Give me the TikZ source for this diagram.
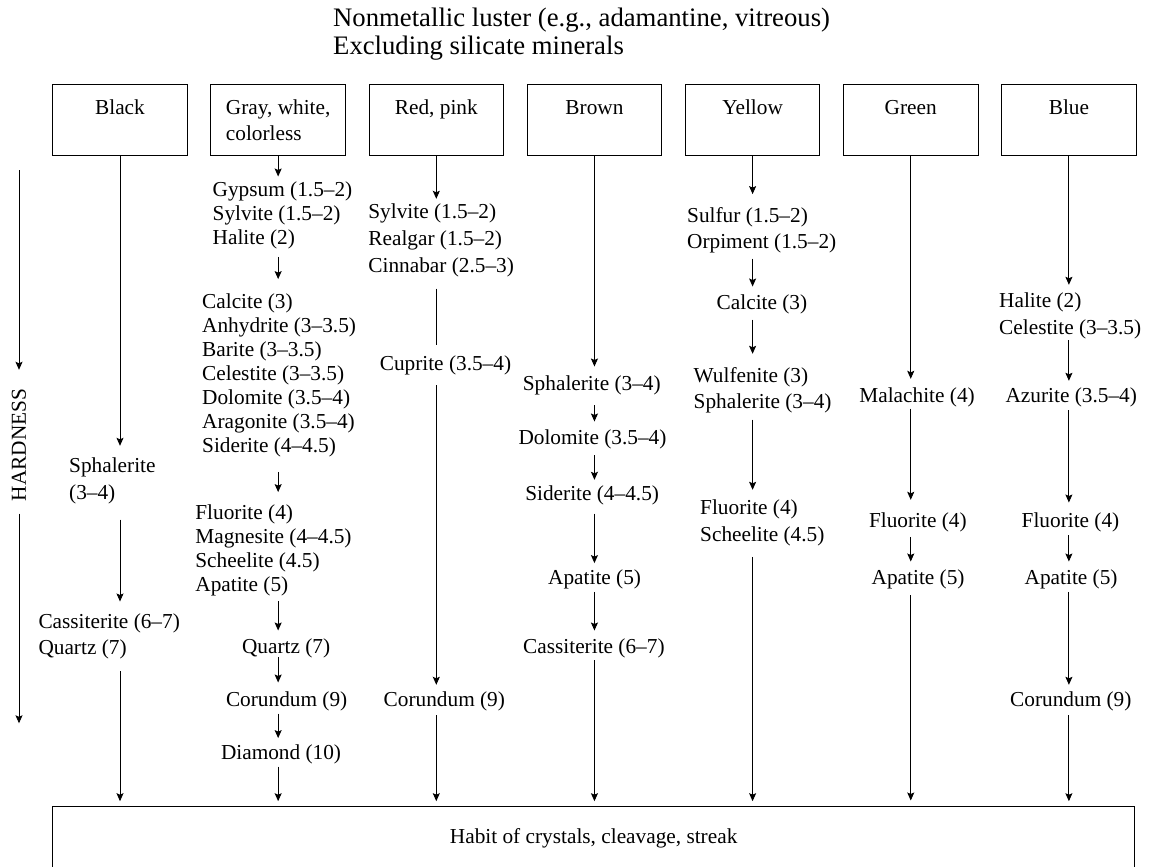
\documentclass[tikz,border=0pt]{standalone}
\usepackage{fontspec}
\setmainfont{Liberation Serif}
\usetikzlibrary{arrows.meta}

% left-aligned stack of lines whose baseline is the first line
\newcommand{\mrows}[1]{\begin{tabular}[t]{@{}l@{}}#1\end{tabular}}

\begin{document}
\begin{tikzpicture}[x=1pt,y=-1pt,
  lbl/.style={inner sep=0pt, anchor=base west, font=\fontsize{21.3}{26.7}\selectfont},
  lblg/.style={lbl, font=\fontsize{21.3}{24}\selectfont},
  colbox/.style={draw, line width=1pt, minimum width=134.6pt, inner sep=0pt,
    text height=30pt, text depth=41.4pt, font=\fontsize{21.3}{26.7}\selectfont},
  arr/.style={line width=0.9pt, -{Stealth[length=8pt,width=7pt,inset=1.5pt]}},
  plain/.style={line width=0.9pt},
  cut/.style 2 args={shorten <=#1pt, shorten >=#2pt},
]
\useasboundingbox (0,0) rectangle (1149,867);

% heading
\node[anchor=base west, inner sep=0pt, font=\fontsize{26.7}{28}\selectfont] (ttl) at (333,27)
  {\mrows{Nonmetallic luster (e.g., adamantine, vitreous)\\Excluding silicate minerals}};

% colour boxes
\node[colbox] (box1) at (120,120)    {\mrows{Black}};
\node[colbox] (box2) at (278.15,120) {\mrows{Gray, white,\\colorless}};
\node[colbox] (box3) at (436.3,120)  {\mrows{Red, pink}};
\node[colbox] (box4) at (594.45,120) {\mrows{Brown}};
\node[colbox] (box5) at (752.6,120)  {\mrows{Yellow}};
\node[colbox] (box6) at (910.75,120) {\mrows{Green}};
\node[colbox] (box7) at (1068.9,120) {\mrows{Blue}};

% bottom box
\node[draw, line width=1pt, minimum width=1081.7pt, inner sep=0pt, text height=37.7pt,
  text depth=36.3pt, anchor=base, font=\fontsize{21.3}{26.7}\selectfont] (hab) at (593.65,843.7)
  {Habit of crystals, cleavage, streak};

% hardness axis
\node[rotate=90, inner sep=0pt, font=\fontsize{21.3}{26.7}\selectfont] (hard) at (19,445) {HARDNESS};
\coordinate (ht) at (19,170);
\coordinate (hb) at (19,723.3);
\draw[arr, cut={0}{18.8}] (ht) -- (hard.east);
\draw[arr, cut={12.1}{0}] (hard.west) -- (hb);

% black
\node[lbl] (bk1) at (69,472.7) {\mrows{Sphalerite\\(3–4)}};
\node[lbl] (bk2) at (38.3,628) {\mrows{Cassiterite (6–7)\\Quartz (7)}};

% gray, white, colorless
\node[lblg] (gy1) at (212.5,196.7) {\mrows{Gypsum (1.5–2)\\Sylvite (1.5–2)\\Halite (2)}};
\node[lblg] (gy2) at (202,308.7) {\mrows{Calcite (3)\\Anhydrite (3–3.5)\\Barite (3–3.5)\\Celestite (3–3.5)\\Dolomite (3.5–4)\\Aragonite (3.5–4)\\Siderite (4–4.5)}};
\node[lblg] (gy3) at (195.2,519) {\mrows{Fluorite (4)\\Magnesite (4–4.5)\\Scheelite (4.5)\\Apatite (5)}};
\node[lblg] (gy4) at (241.9,653) {\mrows{Quartz (7)}};
\node[lblg] (gy5) at (225.8,706.3) {\mrows{Corundum (9)}};
\node[lblg] (gy6) at (220.8,759.3) {\mrows{Diamond (10)}};

% red, pink
\node[lbl] (rd1) at (368.2,218.7) {\mrows{Sylvite (1.5–2)\\Realgar (1.5–2)\\Cinnabar (2.5–3)}};
\node[lbl] (rd2) at (379.6,370.3) {\mrows{Cuprite (3.5–4)}};
\node[lbl] (rd3) at (383.5,706.3) {\mrows{Corundum (9)}};

% brown
\node[lbl] (br1) at (522.7,390.3) {\mrows{Sphalerite (3–4)}};
\node[lbl] (br2) at (518.3,444.3) {\mrows{Dolomite (3.5–4)}};
\node[lbl] (br3) at (525.1,500.3) {\mrows{Siderite (4–4.5)}};
\node[lbl] (br4) at (548,584.3) {\mrows{Apatite (5)}};
\node[lbl] (br5) at (523,653) {\mrows{Cassiterite (6–7)}};

% yellow
\node[lbl] (ye1) at (687,222) {\mrows{Sulfur (1.5–2)\\Orpiment (1.5–2)}};
\node[lbl] (ye2) at (716.5,309.7) {\mrows{Calcite (3)}};
\node[lbl] (ye3) at (693.5,382) {\mrows{Wulfenite (3)\\Sphalerite (3–4)}};
\node[lbl] (ye4) at (700,514.7) {\mrows{Fluorite (4)\\Scheelite (4.5)}};

% green
\node[lbl] (gr1) at (859.2,402.7) {\mrows{Malachite (4)}};
\node[lbl] (gr2) at (868.8,527.7) {\mrows{Fluorite (4)}};
\node[lbl] (gr3) at (871.5,584.3) {\mrows{Apatite (5)}};

% blue
\node[lbl] (bl1) at (999,307.7) {\mrows{Halite (2)\\Celestite (3–3.5)}};
\node[lbl] (bl2) at (1005.4,402.7) {\mrows{Azurite (3.5–4)}};
\node[lbl] (bl3) at (1021.5,527.7) {\mrows{Fluorite (4)}};
\node[lbl] (bl4) at (1024.5,584.3) {\mrows{Apatite (5)}};
\node[lbl] (bl5) at (1010,706.3) {\mrows{Corundum (9)}};

% connectors: black
\draw[arr, cut={0}{8}]      (box1.south) -- (bk1.north -| box1);
\draw[arr, cut={11.9}{7.6}] (bk1.south -| box1) -- (bk2.north -| box1);
\draw[arr, cut={8.3}{4.3}]  (bk2.south -| box1) -- (hab.north -| box1);

% connectors: gray, white, colorless
\draw[arr, cut={0}{3.2}]     (box2.south) -- (gy1.north -| box2);
\draw[arr, cut={4.8}{12.6}]  (gy1.south -| box2) -- (gy2.north -| box2);
\draw[arr, cut={11.8}{9.9}]  (gy2.south -| box2) -- (gy3.north -| box2);
\draw[arr, cut={2.8}{5.5}]   (gy3.south -| box2) -- (gy4.north -| box2);
\draw[arr, cut={-3.5}{6.8}]  (gy4.south -| box2) -- (gy5.north -| box2);
\draw[arr, cut={0}{4.2}]     (gy5.south -| box2) -- (gy6.north -| box2);
\draw[arr, cut={0}{4.3}]     (gy6.south -| box2) -- (hab.north -| box2);

% connectors: red, pink
\draw[arr, cut={0}{1}]       (box3.south) -- (rd1.north -| box3);
\draw[plain, cut={8.2}{6.6}] (rd1.south -| box3) -- (rd2.north -| box3);
\draw[arr, cut={6.7}{2.6}]   (rd2.south -| box3) -- (rd3.north -| box3);
\draw[arr, cut={0.7}{4.3}]   (rd3.south -| box3) -- (hab.north -| box3);

% connectors: brown
\draw[arr, cut={0}{4.9}]     (box4.south) -- (br1.north -| box4);
\draw[arr, cut={6.7}{3.9}]   (br1.south -| box4) -- (br2.north -| box4);
\draw[arr, cut={2.7}{1.6}]   (br2.south -| box4) -- (br3.north -| box4);
\draw[arr, cut={5}{2.3}]     (br3.south -| box4) -- (br4.north -| box4);
\draw[arr, cut={-0.6}{3.6}]  (br4.south -| box4) -- (br5.north -| box4);
\draw[arr, cut={-1}{4.3}]    (br5.south -| box4) -- (hab.north -| box4);

% connectors: yellow
\draw[arr, cut={0}{9}]       (box5.south) -- (ye1.north -| box5);
\draw[arr, cut={1.6}{4.3}]   (ye1.south -| box5) -- (ye2.north -| box5);
\draw[arr, cut={1.6}{9.3}]   (ye2.south -| box5) -- (ye3.north -| box5);
\draw[arr, cut={2.6}{6}]     (ye3.south -| box5) -- (ye4.north -| box5);
\draw[arr, cut={7.3}{4.3}]   (ye4.south -| box5) -- (hab.north -| box5);

% connectors: green
\draw[arr, cut={0}{5}]       (box6.south) -- (gr1.north -| box6);
\draw[arr, cut={-2.4}{9}]    (gr1.south -| box6) -- (gr2.north -| box6);
\draw[arr, cut={1}{3.9}]     (gr2.south -| box6) -- (gr3.north -| box6);
\draw[arr, cut={2.7}{5}]     (gr3.south -| box6) -- (hab.north -| box6);

% connectors: blue
\draw[arr, cut={0}{4}]       (box7.south) -- (bl1.north -| box7);
\draw[arr, cut={-2.4}{3}]    (bl1.south -| box7) -- (bl2.north -| box7);
\draw[arr, cut={-0.7}{6.3}]  (bl2.south -| box7) -- (bl3.north -| box7);
\draw[arr, cut={-0.7}{3.9}]  (bl3.south -| box7) -- (bl4.north -| box7);
\draw[arr, cut={-0.6}{2.6}]  (bl4.south -| box7) -- (bl5.north -| box7);
\draw[arr, cut={0.7}{4.3}]   (bl5.south -| box7) -- (hab.north -| box7);
\end{tikzpicture}
\end{document}
